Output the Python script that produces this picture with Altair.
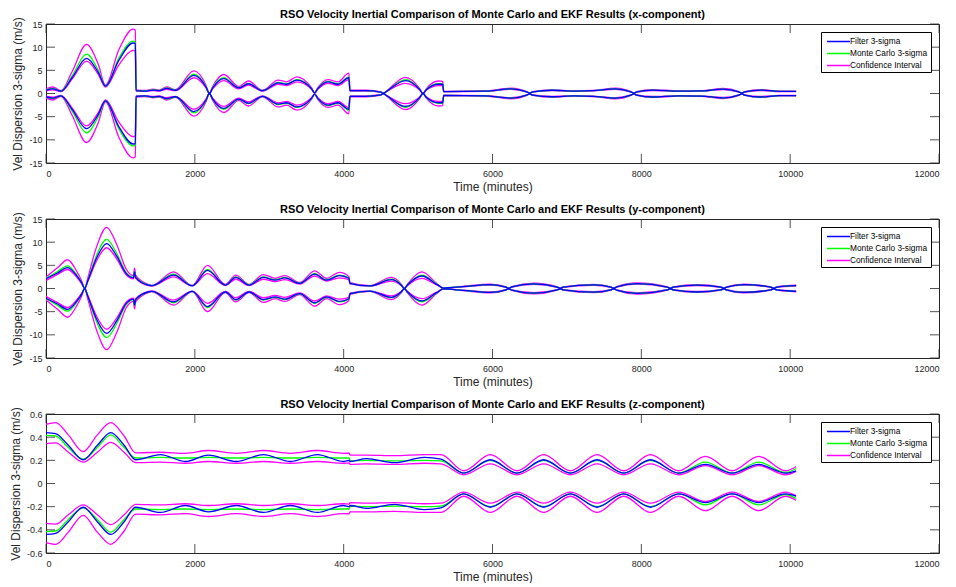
import altair as alt
import pandas as pd

FONT = "Liberation Sans"
TITLES = [
    "RSO Velocity Inertial Comparison of Monte Carlo and EKF Results (x-component)",
    "RSO Velocity Inertial Comparison of Monte Carlo and EKF Results (y-component)",
    "RSO Velocity Inertial Comparison of Monte Carlo and EKF Results (z-component)",
]
X_LABEL = "Time (minutes)"
Y_LABEL = "Vel Dispersion 3-sigma (m/s)"
KINDS = ["Filter 3-sigma", "Monte Carlo 3-sigma", "Confidence Interval"]
COLORS = ["#0000ff", "#00ff00", "#ff00ff"]
X_TICKS = [0, 2000, 4000, 6000, 8000, 10000, 12000]
Y_TICKS_XY = [-15, -10, -5, 0, 5, 10, 15]
Y_TICKS_Z = [-0.6, -0.4, -0.2, 0, 0.2, 0.4, 0.6]

# ---------------- x-component (upper envelope; lower is its mirror) ----------------
T_X = [0, 90, 200, 350, 545, 700, 800, 980, 1170, 1200,
       1210, 1330, 1440, 1520, 1620, 1740, 1985, 2150, 2195, 2240,
       2390, 2590, 2720, 2910, 3120, 3235, 3370, 3570, 3610, 3650,
       3790, 3925, 4070, 4085, 4300, 4500, 4535, 4580, 4830, 5020,
       5066, 5110, 5275, 5330, 5345, 5900, 6250, 6460, 6500, 6540,
       6800, 7100, 7350, 7650, 7860, 7900, 7940, 8150, 8500, 8800,
       9100, 9310, 9350, 9390, 9600, 9850, 10080]
FILT_X = [0.75, 1.0, 0.5, 3.4, 7.6, 4.6, 1.6, 7.2, 10.9, 10.8,
          0.6, 0.5, 0.75, 0.6, 1.1, 0.7, 3.9, 1.4, 0.0, 1.2,
          3.2, 1.2, 2.1, 0.6, 2.3, 2.0, 2.9, 1.0, 0.15, 1.0,
          2.5, 2.0, 3.4, 0.6, 0.6, 0.3, 0.05, 0.5, 2.8, 0.9,
          0.0, 0.8, 2.0, 2.0, 0.4, 0.5, 1.0, 0.35, 0.1, 0.35,
          0.7, 0.5, 0.6, 1.0, 0.35, 0.1, 0.35, 0.75, 0.5, 0.55,
          0.95, 0.35, 0.1, 0.35, 0.75, 0.45, 0.45]
MC_X = [0.8, 1.1, 0.5, 3.8, 8.5, 5.1, 1.6, 7.7, 11.3, 11.2,
        0.6, 0.55, 0.8, 0.65, 1.2, 0.75, 4.2, 1.5, 0.0, 1.3,
        3.4, 1.25, 2.2, 0.6, 2.4, 2.1, 3.0, 1.05, 0.15, 1.05,
        2.6, 2.1, 3.6, 0.6, 0.6, 0.3, 0.05, 0.5, 3.0, 0.95,
        0.0, 0.85, 2.1, 2.1, 0.4, 0.5, 1.0, 0.35, 0.1, 0.35,
        0.7, 0.5, 0.6, 1.0, 0.35, 0.1, 0.35, 0.75, 0.5, 0.55,
        0.95, 0.35, 0.1, 0.35, 0.75, 0.45, 0.45]
CI_HI_X = [1.0, 1.4, 0.6, 4.7, 10.6, 6.4, 1.8, 9.5, 13.9, 13.7,
           0.8, 0.65, 0.95, 0.75, 1.4, 0.85, 4.9, 1.8, 0.0, 1.5,
           4.1, 1.5, 2.7, 0.7, 2.9, 2.5, 3.6, 1.2, 0.2, 1.2,
           3.0, 2.5, 4.4, 0.7, 0.7, 0.35, 0.05, 0.6, 3.5, 1.1,
           0.0, 1.0, 2.7, 2.6, 0.45, 0.55, 1.15, 0.4, 0.1, 0.4,
           0.8, 0.55, 0.65, 1.15, 0.4, 0.1, 0.4, 0.85, 0.55, 0.6,
           1.1, 0.4, 0.1, 0.4, 0.85, 0.5, 0.5]
CI_LO_X = [0.55, 0.8, 0.4, 3.1, 7.0, 4.2, 1.4, 6.2, 9.3, 9.2,
           0.5, 0.45, 0.65, 0.5, 0.9, 0.6, 3.4, 1.2, 0.0, 1.0,
           2.8, 1.0, 1.8, 0.5, 2.0, 1.7, 2.5, 0.85, 0.1, 0.85,
           2.2, 1.7, 3.0, 0.5, 0.5, 0.25, 0.05, 0.45, 2.2, 0.75,
           0.0, 0.7, 1.7, 1.7, 0.35, 0.45, 0.9, 0.3, 0.1, 0.3,
           0.62, 0.45, 0.55, 0.9, 0.3, 0.1, 0.3, 0.65, 0.45, 0.5,
           0.85, 0.3, 0.1, 0.3, 0.65, 0.4, 0.4]

# ---------------- y-component ----------------
T_Y = [0, 150, 290, 420, 480, 520, 560, 680, 815, 950,
       1080, 1175, 1190, 1205, 1380, 1420, 1715, 1965, 2170, 2410,
       2550, 2730, 2920, 3080, 3210, 3410, 3610, 3770, 3945, 4070,
       4085, 4350, 4640, 4775, 4815, 4855, 5052, 5250, 5340, 5600,
       5970, 6180, 6218, 6260, 6554, 6870, 6912, 6950, 7360, 7590,
       7629, 7670, 7943, 8350, 8390, 8430, 8749, 9070, 9107, 9145,
       9376, 9740, 9779, 9820, 10080]
FILT_Y = [2.1, 3.3, 4.5, 2.6, 1.2, 0.0, 1.6, 6.6, 9.7, 7.0,
          3.2, 2.3, 3.6, 2.4, 0.7, 0.6, 2.9, 0.6, 3.9, 0.75,
          2.4, 0.75, 2.4, 1.8, 2.3, 1.1, 3.1, 1.8, 2.8, 2.2,
          1.1, 0.55, 1.9, 0.7, 0.0, 0.7, 2.7, 0.9, 0.1, 0.4,
          0.85, 0.3, 0.05, 0.35, 1.0, 0.3, 0.05, 0.3, 0.8, 0.3,
          0.05, 0.35, 1.05, 0.3, 0.05, 0.3, 0.75, 0.3, 0.05, 0.3,
          0.85, 0.3, 0.05, 0.3, 0.6]
MC_Y = [2.2, 3.6, 4.9, 2.8, 1.3, 0.0, 1.7, 7.2, 10.6, 7.6,
        3.4, 2.4, 3.7, 2.5, 0.75, 0.6, 3.1, 0.6, 4.1, 0.8,
        2.5, 0.8, 2.5, 1.9, 2.4, 1.15, 3.2, 1.9, 2.9, 2.3,
        1.1, 0.55, 2.0, 0.75, 0.0, 0.75, 2.9, 0.95, 0.1, 0.4,
        0.85, 0.3, 0.05, 0.35, 1.0, 0.3, 0.05, 0.3, 0.8, 0.3,
        0.05, 0.35, 1.05, 0.3, 0.05, 0.3, 0.75, 0.3, 0.05, 0.3,
        0.85, 0.3, 0.05, 0.3, 0.6]
CI_HI_Y = [2.5, 4.4, 6.2, 3.5, 1.6, 0.0, 2.2, 9.0, 13.2, 9.5,
           4.1, 2.8, 4.4, 2.9, 0.85, 0.65, 3.6, 0.65, 5.0, 0.9,
           2.9, 0.9, 3.0, 2.2, 2.8, 1.3, 3.8, 2.2, 3.5, 2.6,
           1.25, 0.6, 2.4, 0.9, 0.0, 0.9, 3.6, 1.1, 0.1, 0.45,
           0.95, 0.35, 0.05, 0.4, 1.15, 0.35, 0.05, 0.35, 0.9, 0.35,
           0.05, 0.4, 1.2, 0.35, 0.05, 0.35, 0.85, 0.35, 0.05, 0.35,
           0.95, 0.35, 0.05, 0.35, 0.7]
CI_LO_Y = [1.7, 3.0, 4.1, 2.3, 1.0, 0.0, 1.4, 6.0, 8.8, 6.4,
           2.9, 2.1, 3.2, 2.2, 0.6, 0.5, 2.5, 0.55, 3.2, 0.65,
           2.0, 0.65, 2.0, 1.5, 1.9, 0.95, 2.7, 1.6, 2.3, 1.9,
           1.0, 0.5, 1.6, 0.6, 0.0, 0.6, 2.2, 0.75, 0.1, 0.35,
           0.75, 0.25, 0.05, 0.3, 0.9, 0.25, 0.05, 0.25, 0.7, 0.25,
           0.05, 0.3, 0.95, 0.25, 0.05, 0.25, 0.65, 0.25, 0.05, 0.25,
           0.75, 0.25, 0.05, 0.25, 0.5]

# ---------------- z-component ----------------
T_Z = [0, 130, 300, 500, 690, 870, 1050, 1205, 1536, 1872,
       2182, 2560, 2921, 3284, 3647, 4000, 4075, 4085, 4304, 4683,
       5084, 5307, 5613, 5971, 6330, 6688, 7047, 7405, 7764, 8122,
       8503, 8861, 9220, 9578, 9937, 10080]
FILT_Z = [0.44, 0.43, 0.33, 0.205, 0.33, 0.44, 0.33, 0.205, 0.25, 0.19,
          0.245, 0.19, 0.25, 0.19, 0.25, 0.19, 0.2, 0.19, 0.215, 0.18,
          0.225, 0.21, 0.09, 0.205, 0.09, 0.205, 0.09, 0.205, 0.09, 0.205,
          0.09, 0.165, 0.09, 0.165, 0.09, 0.11]
MC_Z = [0.415, 0.41, 0.31, 0.21, 0.31, 0.42, 0.31, 0.22, 0.225, 0.22,
        0.225, 0.22, 0.225, 0.22, 0.225, 0.22, 0.22, 0.195, 0.2, 0.195,
        0.2, 0.195, 0.09, 0.2, 0.09, 0.2, 0.09, 0.2, 0.09, 0.2,
        0.09, 0.185, 0.09, 0.185, 0.095, 0.13]
CI_HI_Z = [0.51, 0.525, 0.42, 0.275, 0.42, 0.525, 0.41, 0.265, 0.27, 0.26,
           0.285, 0.26, 0.285, 0.26, 0.285, 0.26, 0.262, 0.245, 0.245, 0.24,
           0.25, 0.25, 0.11, 0.25, 0.11, 0.25, 0.11, 0.25, 0.11, 0.25,
           0.11, 0.235, 0.11, 0.235, 0.11, 0.145]
CI_LO_Z = [0.345, 0.35, 0.27, 0.185, 0.27, 0.355, 0.27, 0.18, 0.185, 0.175,
           0.19, 0.175, 0.19, 0.175, 0.19, 0.175, 0.178, 0.165, 0.17, 0.165,
           0.175, 0.17, 0.075, 0.17, 0.075, 0.17, 0.075, 0.17, 0.075, 0.17,
           0.075, 0.155, 0.075, 0.155, 0.075, 0.105]

W, H = 893, 139
AX = "#262626"


def long_table(t, filt, mc, hi, lo):
    for arr in (filt, mc, hi, lo):
        assert len(arr) == len(t), (len(arr), len(t))
    rows = []
    for kind, name, vals in [(KINDS[0], "f", filt), (KINDS[1], "m", mc),
                             (KINDS[2], "h", hi), (KINDS[2], "l", lo)]:
        for sgn, tag in [(1, "+"), (-1, "-")]:
            for ti, vi in zip(t, vals):
                rows.append({"t": ti, "v": sgn * vi, "kind": kind, "series": name + tag})
    return pd.DataFrame(rows)


def panel(df, title, yticks, ydom):
    xs = alt.Scale(domain=[0, 12000], nice=False, zero=False)
    ys = alt.Scale(domain=ydom, nice=False, zero=False)
    xaxis = alt.Axis(values=X_TICKS, title=X_LABEL, labelExpr="datum.value + ''",
                     ticks=False, domain=False, grid=False, labelPadding=6,
                     titlePadding=3)
    yaxis = alt.Axis(values=yticks, title=Y_LABEL, labelExpr="datum.value + ''",
                     ticks=False, domain=False, grid=False, labelPadding=4,
                     titlePadding=4)
    x = alt.X("t:Q", scale=xs, axis=xaxis)
    y = alt.Y("v:Q", scale=ys, axis=yaxis)
    color = alt.Color("kind:N", scale=alt.Scale(domain=KINDS, range=COLORS),
                      legend=alt.Legend(
                          title=None, orient="top-right", offset=8,
                          strokeColor="black", fillColor="white", padding=3,
                          labelFont=FONT, labelFontSize=8.3, labelColor="black",
                          symbolType="M-0.6,0H3.4", symbolSize=132,
                          symbolStrokeWidth=1.5, rowPadding=2, labelOffset=13,
                          labelLimit=300, cornerRadius=0))
    base = alt.Chart(df)
    layers = []
    for kind in [KINDS[2], KINDS[1], KINDS[0]]:
        layers.append(
            base.transform_filter(alt.datum.kind == kind)
            .mark_line(strokeWidth=1.3, interpolate="monotone")
            .encode(x=x, y=y, color=color, detail="series:N")
        )
    xt = pd.DataFrame({"t": X_TICKS})
    yt = pd.DataFrame({"v": yticks})
    rule = dict(color=AX, strokeWidth=0.8)
    layers.append(alt.Chart(xt).mark_rule(**rule).encode(x=x, y=alt.value(0), y2=alt.value(9)))
    layers.append(alt.Chart(xt).mark_rule(**rule).encode(x=x, y=alt.value(H), y2=alt.value(H - 9)))
    layers.append(alt.Chart(yt).mark_rule(**rule).encode(y=y, x=alt.value(0), x2=alt.value(9)))
    layers.append(alt.Chart(yt).mark_rule(**rule).encode(y=y, x=alt.value(W), x2=alt.value(W - 9)))
    return alt.layer(*layers).properties(
        width=W, height=H,
        title=alt.TitleParams(title, fontSize=11, fontWeight="bold", font=FONT,
                              anchor="middle", offset=-3, color="black",
                              frame="group"))


p1 = panel(long_table(T_X, FILT_X, MC_X, CI_HI_X, CI_LO_X), TITLES[0], Y_TICKS_XY, [-15, 15])
p2 = panel(long_table(T_Y, FILT_Y, MC_Y, CI_HI_Y, CI_LO_Y), TITLES[1], Y_TICKS_XY, [-15, 15])
p3 = panel(long_table(T_Z, FILT_Z, MC_Z, CI_HI_Z, CI_LO_Z), TITLES[2], Y_TICKS_Z, [-0.6, 0.6])

chart = (
    alt.vconcat(p1, p2, p3, spacing=10)
    .resolve_legend(color="independent")
    .configure(background="white", padding=0)
    .configure_view(stroke=AX, strokeWidth=1)
    .configure_axis(labelFont=FONT, labelFontSize=9, labelColor=AX,
                    titleFont=FONT, titleFontSize=12, titleFontWeight="normal",
                    titleColor=AX)
)

chart.save("out.html", embed_options={"renderer": "svg", "actions": False})
